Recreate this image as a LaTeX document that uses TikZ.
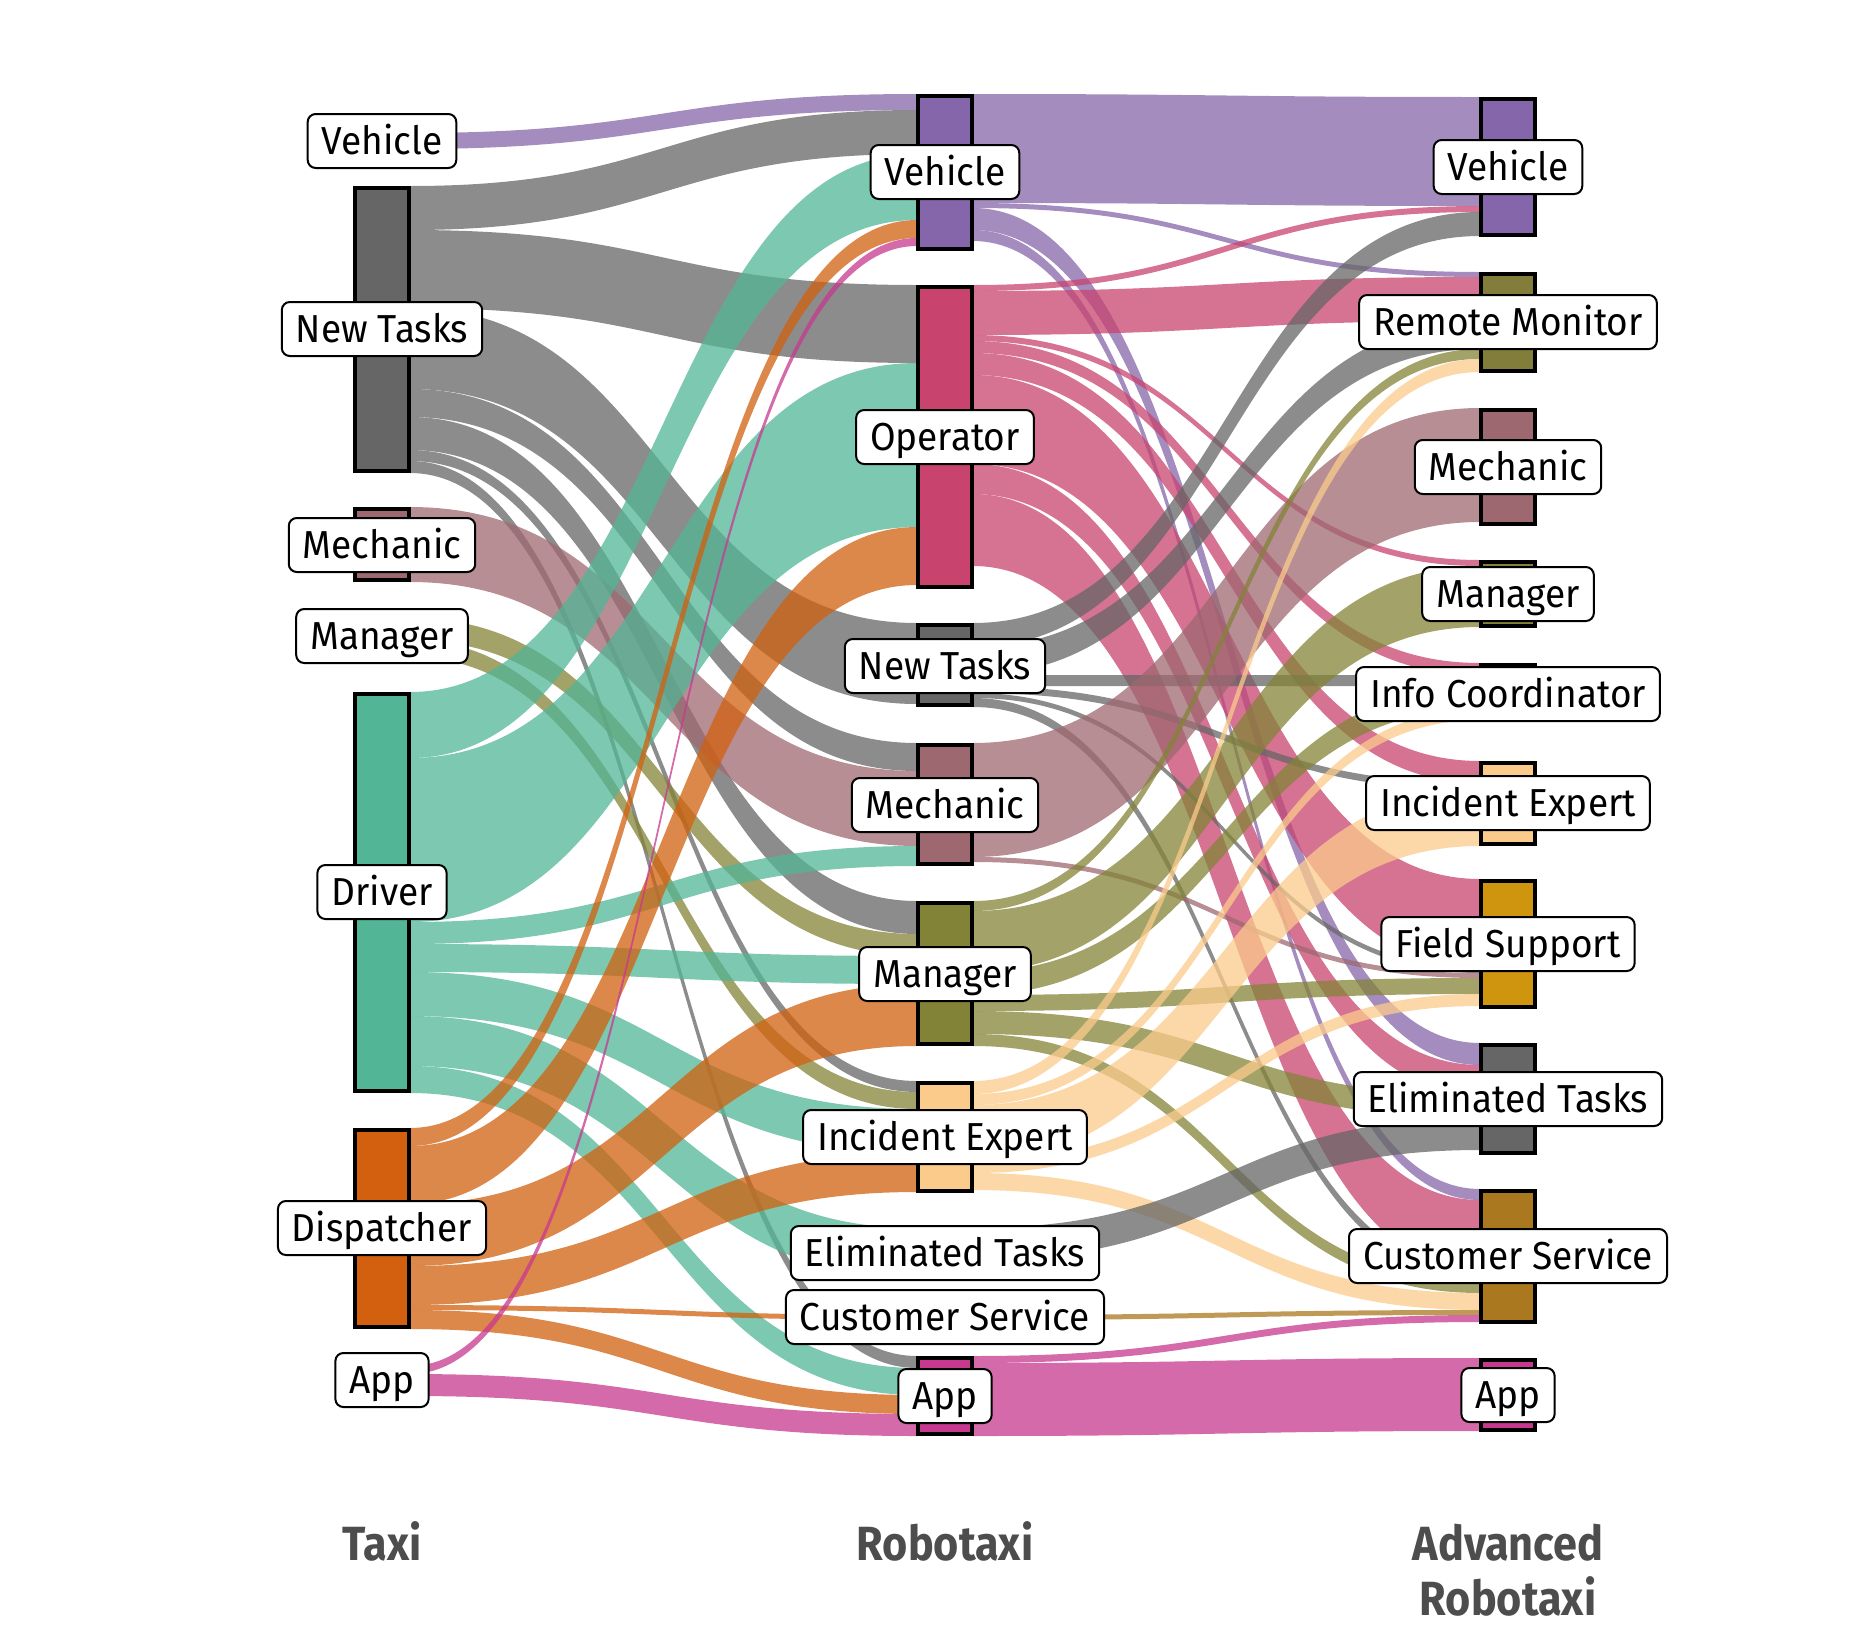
\documentclass[tikz,border=0pt]{standalone}
\usepackage{fontspec}
\setmainfont{Fira Sans}[FakeStretch=0.95]
\newfontfamily\titlefont{Fira Sans}[FakeStretch=0.9]
\definecolor{cveh}{HTML}{8566AA}
\definecolor{cnt}{HTML}{666666}
\definecolor{cmech}{HTML}{9E6870}
\definecolor{cman}{HTML}{838337}
\definecolor{cdrv}{HTML}{52B596}
\definecolor{cdsp}{HTML}{D2600F}
\definecolor{capp}{HTML}{C7388F}
\definecolor{cop}{HTML}{C8436E}
\definecolor{cie}{HTML}{FBCB8B}
\definecolor{crm}{HTML}{827D3A}
\definecolor{cic}{HTML}{3A3322}
\definecolor{cfs}{HTML}{CF950F}
\definecolor{ccs}{HTML}{AA781E}
\definecolor{ctitle}{HTML}{4D4D4D}
\tikzset{
  barbox/.style={draw=black, line width=2pt, minimum width=27pt, inner sep=0pt, outer sep=0pt},
  lbl/.style={draw=black, line width=1pt, fill=white, rounded corners=4pt, inner xsep=7pt, inner ysep=6.75pt, text height=13.5pt, text depth=0pt, font=\fontsize{19.5}{20}\selectfont},
  coltitle/.style={font=\titlefont\bfseries\fontsize{24}{27}\selectfont, text=ctitle, anchor=base, inner sep=0pt},
  flowband/.style={fill opacity=0.75}
}
\newcommand\colbar[5]{\node[barbox, fill=#5, minimum height={(#4-#3)*0.5pt-2pt}] (#1) at (#2,{(#3+#4)/2}) {};}
\begin{document}
\begin{tikzpicture}[x=0.5pt, y=-0.5pt]
\useasboundingbox (0,0) rectangle (1875,1650);
% Taxi -> Robotaxi flows
\foreach \ta/\ba/\tb/\bb/\c in {
 133/149/94/110/cveh,
 186/230/110/154/cnt, 230/308/285/363/cnt, 308/389/623/704/cnt, 389/417/743/771/cnt,
 417/450/901/934/cnt, 450/461/1081/1092/cnt, 461/473/1356/1368/cnt,
 507/582/771/846/cmech,
 618/640/934/956/cman, 640/657/1092/1109/cman,
 692/758/154/220/cdrv, 758/922/363/527/cdrv, 922/944/846/866/cdrv, 944/972/956/984/cdrv,
 972/1016/1109/1153/cdrv, 1016/1066/1228/1278/cdrv, 1066/1093/1368/1395/cdrv,
 1128/1146/220/238/cdsp, 1146/1204/527/585/cdsp, 1204/1266/984/1046/cdsp,
 1266/1305/1153/1192/cdsp, 1305/1310/1315/1320/cdsp, 1310/1329/1395/1414/cdsp,
 1366/1374/238/246/capp, 1374/1396/1414/1436/capp}
 {\fill[\c, flowband] (410,\ta) .. controls (663.5,\ta) and (663.5,\tb) .. (917,\tb) -- (917,\bb) .. controls (663.5,\bb) and (663.5,\ba) .. (410,\ba) -- cycle;}
% Robotaxi -> Advanced Robotaxi flows
\foreach \ta/\ba/\tb/\bb/\c in {
 94/203/97/206/cveh, 203/208/272/277/cveh, 208/230/1043/1065/cveh, 230/241/1189/1200/cveh,
 285/291/206/212/cop, 291/335/277/321/cop, 335/341/560/566/cop, 341/353/663/675/cop,
 353/375/761/783/cop, 375/464/879/968/cop, 464/494/1065/1095/cop, 494/566/1200/1272/cop,
 623/647/212/236/cnt, 647/675/321/349/cnt, 675/686/675/686/cnt, 686/693/783/790/cnt,
 693/698/968/973/cnt, 698/707/1272/1281/cnt,
 743/857/408/522/cmech, 857/862/973/978/cmech,
 901/911/349/359/cman, 911/972/566/627/cman, 972/995/686/709/cman, 995/1011/978/994/cman,
 1011/1034/1095/1118/cman, 1034/1046/1281/1293/cman,
 1081/1094/359/372/cie, 1094/1105/709/720/cie, 1105/1161/790/846/cie, 1161/1173/994/1006/cie,
 1173/1190/1293/1310/cie,
 1228/1260/1118/1150/cnt,
 1315/1320/1310/1315/ccs,
 1356/1363/1315/1322/capp, 1363/1436/1358/1431/capp}
 {\fill[\c, flowband] (973,\ta) .. controls (1226.5,\ta) and (1226.5,\tb) .. (1480,\tb) -- (1480,\bb) .. controls (1226.5,\bb) and (1226.5,\ba) .. (973,\ba) -- cycle;}
% Taxi column bars
\colbar{tVeh}{382}{133}{149}{cveh}
\colbar{tNT}{382}{186}{473}{cnt}
\colbar{tMech}{382}{507}{582}{cmech}
\colbar{tMan}{382}{618}{657}{cman}
\colbar{tDrv}{382}{692}{1093}{cdrv}
\colbar{tDsp}{382}{1128}{1329}{cdsp}
\colbar{tApp}{382}{1364}{1396}{capp}
% Robotaxi column bars
\colbar{rVeh}{945}{94}{251}{cveh}
\colbar{rOp}{945}{285}{589}{cop}
\colbar{rNT}{945}{623}{707}{cnt}
\colbar{rMech}{945}{743}{866}{cmech}
\colbar{rMan}{945}{901}{1046}{cman}
\colbar{rIE}{945}{1081}{1193}{cie}
\colbar{rET}{945}{1228}{1280}{cnt}
\colbar{rCS}{945}{1314}{1321}{ccs}
\colbar{rApp}{945}{1356}{1436}{capp}
% Advanced Robotaxi column bars
\colbar{aVeh}{1508}{97}{237}{cveh}
\colbar{aRM}{1508}{272}{373}{crm}
\colbar{aMech}{1508}{408}{526}{cmech}
\colbar{aMan}{1508}{560}{628}{cman}
\colbar{aIC}{1508}{663}{718}{cic}
\colbar{aIE}{1508}{761}{846}{cie}
\colbar{aFS}{1508}{879}{1009}{cfs}
\colbar{aET}{1508}{1043}{1155}{cnt}
\colbar{aCS}{1508}{1189}{1324}{ccs}
\colbar{aApp}{1508}{1358}{1432}{capp}
% labels
\node[lbl] (tVehL) at (382,141) {Vehicle};
\node[lbl] (tNTL) at (382,329) {New Tasks};
\node[lbl] (tMechL) at (382,545) {Mechanic};
\node[lbl] (tManL) at (382,636) {Manager};
\node[lbl] (tDrvL) at (382,892) {Driver};
\node[lbl] (tDspL) at (382,1228) {Dispatcher};
\node[lbl] (tAppL) at (382,1380) {App};
\node[lbl] (rVehL) at (945,172) {Vehicle};
\node[lbl] (rOpL) at (945,437) {Operator};
\node[lbl] (rNTL) at (945,666) {New Tasks};
\node[lbl] (rMechL) at (945,805) {Mechanic};
\node[lbl] (rManL) at (945,974) {Manager};
\node[lbl] (rIEL) at (945,1137) {Incident Expert};
\node[lbl] (rETL) at (945,1253) {Eliminated Tasks};
\node[lbl] (rCSL) at (945,1317) {Customer Service};
\node[lbl] (rAppL) at (945,1396) {App};
\node[lbl] (aVehL) at (1508,167) {Vehicle};
\node[lbl] (aRML) at (1508,322) {Remote Monitor};
\node[lbl] (aMechL) at (1508,467) {Mechanic};
\node[lbl] (aManL) at (1508,594) {Manager};
\node[lbl] (aICL) at (1508,694) {Info Coordinator};
\node[lbl] (aIEL) at (1508,803) {Incident Expert};
\node[lbl] (aFSL) at (1508,944) {Field Support};
\node[lbl] (aETL) at (1508,1099) {Eliminated Tasks};
\node[lbl] (aCSL) at (1508,1256) {Customer Service};
\node[lbl] (aAppL) at (1508,1395) {App};
% column titles
\node[coltitle] (titleA) at (382,1560) {Taxi};
\node[coltitle] (titleB) at (945,1560) {Robotaxi};
\node[coltitle] (titleC1) at (1508,1560) {Advanced};
\node[coltitle] (titleC2) at (1508,1615) {Robotaxi};
\end{tikzpicture}
\end{document}
